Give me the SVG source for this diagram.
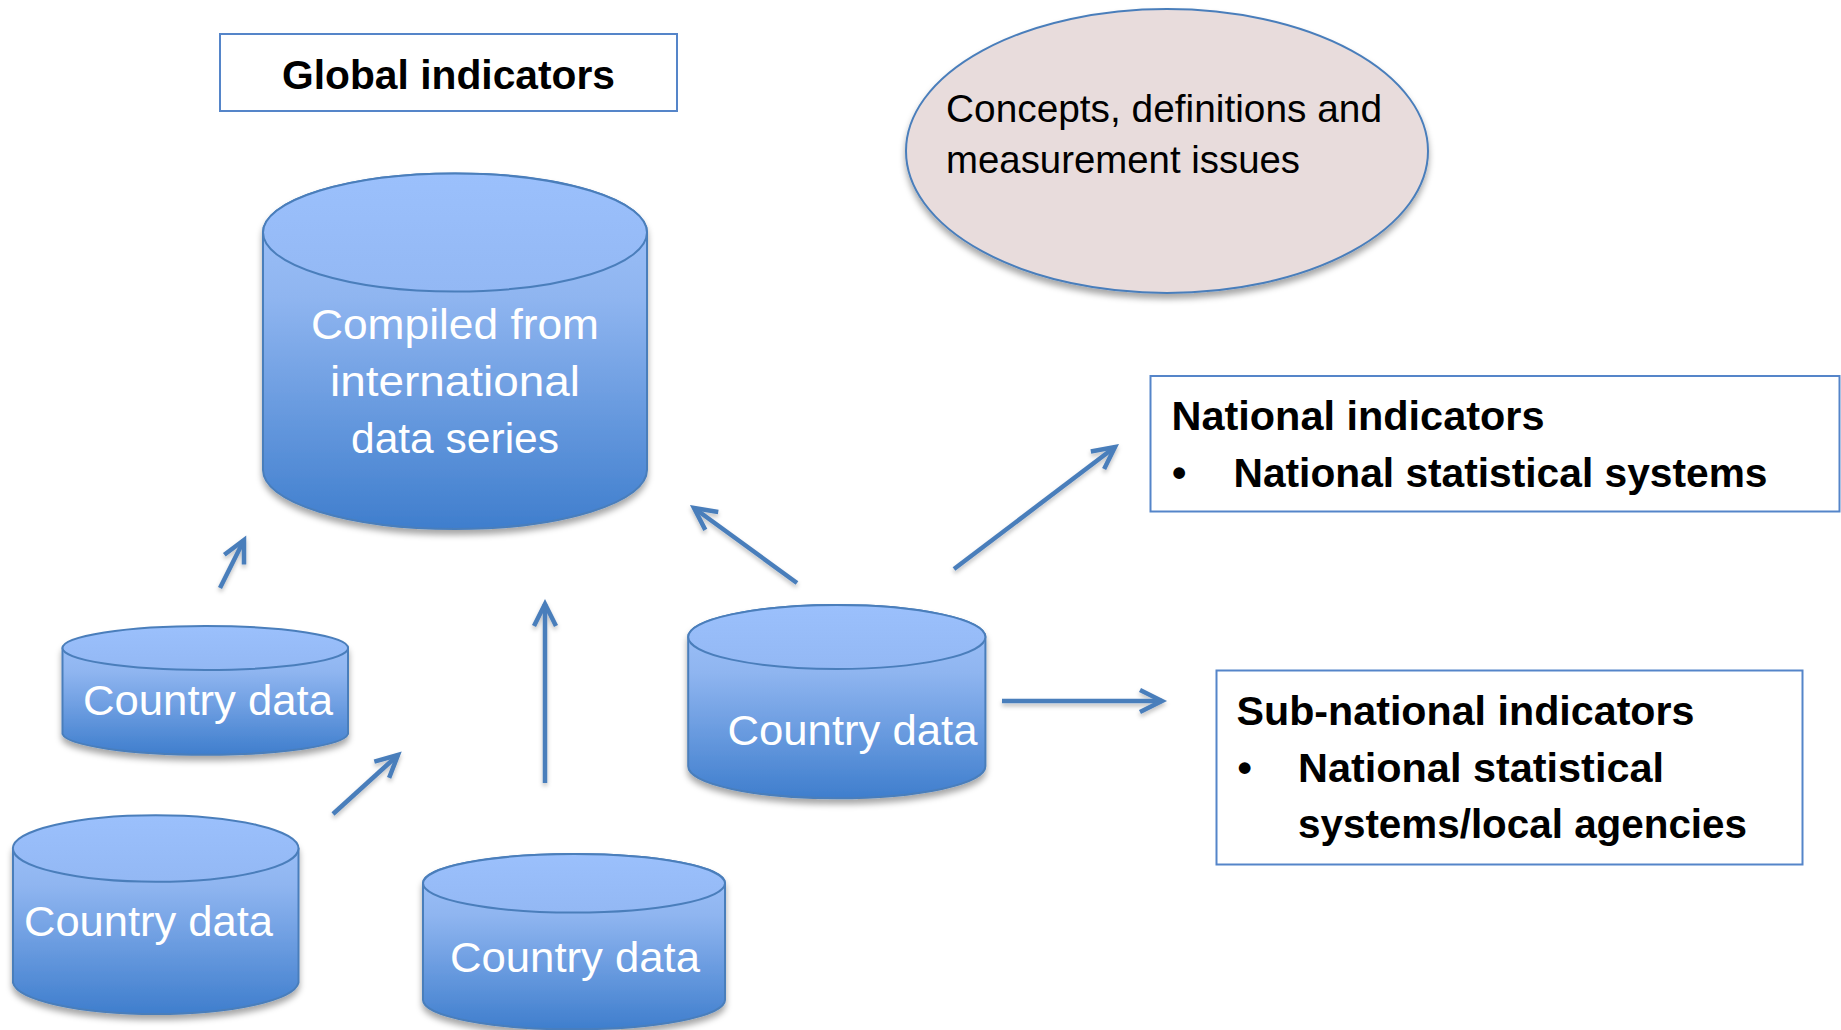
<svg xmlns="http://www.w3.org/2000/svg" width="1841" height="1030" viewBox="0 0 1841 1030">
  <defs>
    <linearGradient id="body" x1="0" y1="0" x2="0" y2="1">
      <stop offset="0" stop-color="#a1c4fb"/>
      <stop offset="0.35" stop-color="#8fb5f0"/>
      <stop offset="1" stop-color="#3f7ecd"/>
    </linearGradient>
    <linearGradient id="lid" x1="0" y1="0" x2="0" y2="1">
      <stop offset="0" stop-color="#9bc0fc"/>
      <stop offset="1" stop-color="#93b8f4"/>
    </linearGradient>
    <filter id="sh" x="-10%" y="-10%" width="120%" height="125%">
      <feDropShadow dx="0" dy="5" stdDeviation="3" flood-color="#000" flood-opacity="0.35"/>
    </filter>
    <filter id="ash" x="-20%" y="-20%" width="140%" height="140%">
      <feDropShadow dx="0" dy="3" stdDeviation="2" flood-color="#000" flood-opacity="0.25"/>
    </filter>
    <marker id="arr" markerUnits="userSpaceOnUse" markerWidth="40" markerHeight="40" refX="0" refY="0" viewBox="-30 -20 40 40" orient="auto" overflow="visible">
      <path d="M-22,-11 L0,0 L-22,11" fill="none" stroke="#4a7ebb" stroke-width="4.5" stroke-linejoin="miter"/>
    </marker>
    <style>
      .box{fill:#ffffff;stroke:#5585c9;stroke-width:2}
      .cyl{fill:url(#body);stroke:#4a7ebb;stroke-width:2}
      .lid{fill:url(#lid);stroke:#4a7ebb;stroke-width:2}
      .ct{font-family:"Liberation Sans",Arial,sans-serif;font-size:43px;fill:#ffffff}
      .bt{font-family:"Liberation Sans",Arial,sans-serif;font-size:41px;font-weight:bold;fill:#000000}
      .et{font-family:"Liberation Sans",Arial,sans-serif;font-size:39px;fill:#000000}
      .conn{fill:none;stroke:#4a7ebb;stroke-width:4.5;marker-end:url(#arr)}
    </style>
  </defs>
  <rect width="1841" height="1030" fill="#ffffff"/>

  <g id="global-indicators">
    <rect class="box" x="220" y="34" width="457" height="77"/>
    <text class="bt" x="448.5" y="89" text-anchor="middle" textLength="333" lengthAdjust="spacingAndGlyphs">Global indicators</text>
  </g>

  <g id="concepts">
    <ellipse cx="1167" cy="151" rx="261" ry="142" fill="#e8dcdc" stroke="#4a7ebb" stroke-width="2" filter="url(#sh)"/>
    <text class="et" x="946" y="122" textLength="436" lengthAdjust="spacingAndGlyphs">Concepts, definitions and</text>
    <text class="et" x="946" y="173" textLength="354" lengthAdjust="spacingAndGlyphs">measurement issues</text>
  </g>

  <g id="compiled">
    <g filter="url(#sh)">
      <path class="cyl" d="M263,232.5 A192,59 0 0 1 647,232.5 L647,470 A192,59 0 0 1 263,470 Z"/>
    </g>
    <ellipse class="lid" cx="455" cy="232.5" rx="192" ry="59"/>
    <text class="ct" x="455" y="339" text-anchor="middle" textLength="288" lengthAdjust="spacingAndGlyphs">Compiled from</text>
    <text class="ct" x="455" y="396" text-anchor="middle" textLength="250" lengthAdjust="spacingAndGlyphs">international</text>
    <text class="ct" x="455" y="453" text-anchor="middle" textLength="208" lengthAdjust="spacingAndGlyphs">data series</text>
  </g>

  <g id="country-1">
    <g filter="url(#sh)">
      <path class="cyl" d="M62.5,648 A143,22 0 0 1 348,648 L348,734 A143,22 0 0 1 62.5,734 Z"/>
    </g>
    <ellipse class="lid" cx="205.3" cy="648" rx="142.8" ry="22"/>
    <text class="ct" x="83" y="715" textLength="250" lengthAdjust="spacingAndGlyphs">Country data</text>
  </g>

  <g id="country-2">
    <g filter="url(#sh)">
      <path class="cyl" d="M13,848.5 A143,33.3 0 0 1 298.5,848.5 L298.5,982.7 A143,33.3 0 0 1 13,982.7 Z"/>
    </g>
    <ellipse class="lid" cx="155.7" cy="848.5" rx="142.8" ry="33.3"/>
    <text class="ct" x="24" y="936" textLength="249" lengthAdjust="spacingAndGlyphs">Country data</text>
  </g>

  <g id="country-3">
    <g filter="url(#sh)">
      <path class="cyl" d="M423,883.3 A151,29.3 0 0 1 725,883.3 L725,1000 A151,29.3 0 0 1 423,1000 Z"/>
    </g>
    <ellipse class="lid" cx="574" cy="883.3" rx="151" ry="29.3"/>
    <text class="ct" x="450" y="972" textLength="250" lengthAdjust="spacingAndGlyphs">Country data</text>
  </g>

  <g id="country-4">
    <g filter="url(#sh)">
      <path class="cyl" d="M688.2,637 A148.6,32 0 0 1 985.4,637 L985.4,766.3 A148.6,32 0 0 1 688.2,766.3 Z"/>
    </g>
    <ellipse class="lid" cx="836.8" cy="637" rx="148.6" ry="32"/>
    <text class="ct" x="727.5" y="745" textLength="250" lengthAdjust="spacingAndGlyphs">Country data</text>
  </g>

  <g id="national-indicators">
    <rect class="box" x="1150.5" y="376" width="689" height="135.5"/>
    <text class="bt" x="1171.5" y="430" textLength="373" lengthAdjust="spacingAndGlyphs">National indicators</text>
    <text class="bt" x="1172" y="487">•</text>
    <text class="bt" x="1233.5" y="487" textLength="534" lengthAdjust="spacingAndGlyphs">National statistical systems</text>
  </g>

  <g id="subnational-indicators">
    <rect class="box" x="1216.5" y="670.5" width="586" height="194"/>
    <text class="bt" x="1236.5" y="725" textLength="458" lengthAdjust="spacingAndGlyphs">Sub-national indicators</text>
    <text class="bt" x="1237.5" y="782">•</text>
    <text class="bt" x="1298" y="782" textLength="366" lengthAdjust="spacingAndGlyphs">National statistical</text>
    <text class="bt" x="1298" y="838" textLength="449" lengthAdjust="spacingAndGlyphs">systems/local agencies</text>
  </g>

  <g id="connectors" filter="url(#ash)">
    <line class="conn" x1="220" y1="588" x2="244" y2="540"/>
    <line class="conn" x1="333" y1="814" x2="398" y2="755"/>
    <line class="conn" x1="545" y1="783" x2="545" y2="604"/>
    <line class="conn" x1="797" y1="583" x2="694" y2="508"/>
    <line class="conn" x1="954" y1="569" x2="1115" y2="447"/>
    <line class="conn" x1="1002" y1="701" x2="1162" y2="701"/>
  </g>
</svg>
